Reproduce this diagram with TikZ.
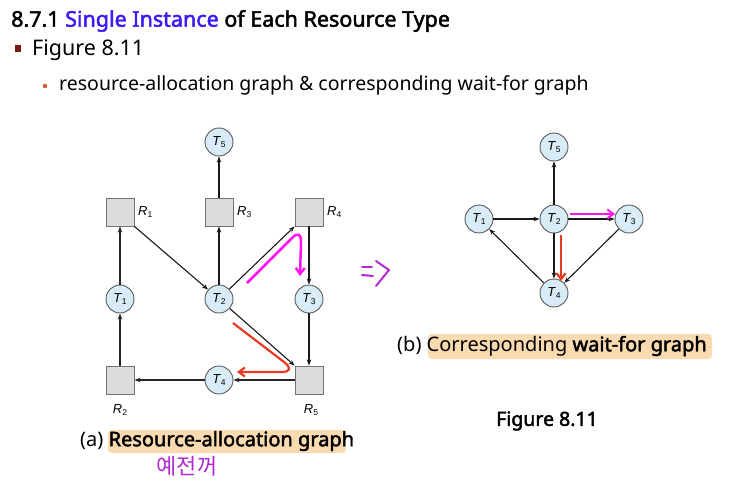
\documentclass[tikz,border=0pt]{standalone}
\usepackage{fontspec}
\setmainfont{Noto Sans}[AutoFakeBold=2.2]
\newfontfamily\lab{Liberation Sans}
\newfontfamily\kor{Noto Sans CJK KR}
\usetikzlibrary{arrows.meta}
\definecolor{titleblue}{HTML}{3B1CF5}
\definecolor{bulletred}{HTML}{7A1A10}
\definecolor{bulletorange}{HTML}{D2603A}
\definecolor{circfill}{HTML}{D8ECF8}
\definecolor{sqfill}{HTML}{DCDCDC}
\definecolor{magentaarrow}{HTML}{FF14F0}
\definecolor{redarrow}{HTML}{E83A22}
\definecolor{handpurple}{HTML}{B22BD0}
\definecolor{hl}{HTML}{F8C27E}
\tikzset{
  proc/.style={circle,draw=black!65,fill=circfill,line width=0.9pt,minimum size=28pt,inner sep=0pt,font=\lab\fontsize{13}{13}\selectfont},
  res/.style={rectangle,draw=black!55,fill=sqfill,line width=0.9pt,minimum size=28pt,inner sep=0pt},
  rlab/.style={font=\lab\fontsize{13}{13}\selectfont,inner sep=0pt},
  edge/.style={-{Stealth[length=6pt,width=4.5pt]},line width=1.1pt,black!90},
  thickedge/.style={-{Stealth[length=6pt,width=4.5pt]},line width=2pt,black!85},
  marrow/.style={-{Straight Barb[length=6pt,width=9pt]},line width=2.5pt,magentaarrow},
  rarrow/.style={-{Straight Barb[length=6pt,width=9pt]},line width=2.2pt,redarrow},
  hand/.style={line width=2pt,handpurple,line cap=round,line join=round},
  hlbox/.style={fill=hl,fill opacity=0.6,rounded corners=4pt,draw=none}
}
\newcommand{\tn}[1]{\textit{T}\raisebox{-0.35ex}{\fontsize{8.5}{8.5}\selectfont #1}}
\newcommand{\rn}[1]{\textit{R}\raisebox{-0.35ex}{\fontsize{8.5}{8.5}\selectfont #1}}
\begin{document}
\begin{tikzpicture}[x=1pt,y=-1pt]
\useasboundingbox (0,0) rectangle (748,498);
\fill[white] (0,0) rectangle (748,498);
% header
\node[anchor=west,inner sep=0pt,font=\bfseries\fontsize{21.5}{22}\selectfont] (title) at (11,21) {8.7.1 \textcolor{titleblue}{Single Instance} of Each Resource Type};
\fill[bulletred] (15,45) rectangle (21,52);
\node[anchor=west,inner sep=0pt,font=\fontsize{21.5}{22}\selectfont] (fig) at (32,50) {Figure 8.11};
\fill[bulletorange] (45,86) circle (2.3pt);
\node[anchor=west,inner sep=0pt,font=\fontsize{19.5}{20}\selectfont] (sub) at (59,85) {resource-allocation graph \& corresponding wait-for graph};
% highlights
\fill[hlbox] (108,430) rectangle (346,453);
\fill[hlbox] (428,334) rectangle (712,359);
% left graph nodes
\node[proc] (aT5) at (219,142) {\tn{5}};
\node[res] (aR1) at (120,212) {};
\node[res] (aR3) at (219,212) {};
\node[res] (aR4) at (309,212) {};
\node[rlab,anchor=west] (aR1l) at (138,212) {\rn{1}};
\node[rlab,anchor=west] (aR3l) at (237,212) {\rn{3}};
\node[rlab,anchor=west] (aR4l) at (327,212) {\rn{4}};
\node[proc] (aT1) at (120,299) {\tn{1}};
\node[proc] (aT2) at (219,299) {\tn{2}};
\node[proc] (aT3) at (309,299) {\tn{3}};
\node[res] (aR2) at (120,380) {};
\node[proc] (aT4) at (219,380) {\tn{4}};
\node[res] (aR5) at (309,380) {};
\node[rlab] (aR2l) at (120,410) {\rn{2}};
\node[rlab] (aR5l) at (311,410) {\rn{5}};
% left graph edges
\draw[thickedge] (aT1) -- (aR1);
\draw[thickedge] (aR2) -- (aT1);
\draw[edge] (aR1.south east) -- (aT2);
\draw[edge] (aT2) -- (aR3);
\draw[edge] (aR3) -- (aT5);
\draw[edge] (aT2) -- (aR4.south west);
\draw[edge] (aR4) -- (aT3);
\draw[edge] (aT3) -- (aR5);
\draw[edge] (aT2) -- (aR5.north west);
\draw[thickedge] (aR5) -- (aT4);
\draw[thickedge] (aT4) -- (aR2);
% annotation arrows (left)
\coordinate (m1) at (247,283);
\coordinate (m2) at (300,276);
\draw[marrow] (m1) -- (292,238) .. controls (298,232) and (301,234) .. (301,242) -- (m2);
\coordinate (r1) at (233,323);
\coordinate (r2) at (237,372);
\draw[rarrow] (r1) -- (284,362) .. controls (292,368) and (290,372) .. (282,372) -- (r2);
% captions
\node[anchor=west,inner sep=0pt,font=\fontsize{20}{20}\selectfont] (capA) at (80,441) {(a) \textbf{Resource-allocation graph}};
\node[inner sep=0pt,font=\kor\fontsize{22}{22}\selectfont,text=handpurple] (kor) at (187,466) {예전꺼};
% right graph nodes
\node[proc] (bT5) at (554,147) {\tn{5}};
\node[proc] (bT1) at (479,219) {\tn{1}};
\node[proc] (bT2) at (554,219) {\tn{2}};
\node[proc] (bT3) at (629,219) {\tn{3}};
\node[proc] (bT4) at (554,293) {\tn{4}};
\draw[edge] (bT2) -- (bT5);
\draw[edge] (bT1) -- (bT2);
\draw[edge] (bT2) -- (bT3);
\draw[edge] (bT2) -- (bT4);
\draw[edge] (bT3) -- (bT4);
\draw[edge] (bT4) -- (bT1);
\coordinate (bm1) at (570,214);
\coordinate (bm2) at (615,214);
\draw[marrow,line width=2pt] (bm1) -- (bm2);
\coordinate (br1) at (561,235);
\coordinate (br2) at (561,281);
\draw[rarrow] (br1) -- (br2);
% handwritten implies arrow
\draw[hand] (362,267) -- (372,267);
\draw[hand] (362,275) -- (373,276);
\draw[hand] (376,261) -- (389,270) -- (376,286);
\node[anchor=west,inner sep=0pt,font=\fontsize{20}{20}\selectfont] (capB) at (397,346) {(b) Corresponding \textbf{wait-for graph}};
\node[inner sep=0pt,font=\bfseries\fontsize{19.5}{20}\selectfont] (figb) at (547,421) {Figure 8.11};
\end{tikzpicture}
\end{document}
